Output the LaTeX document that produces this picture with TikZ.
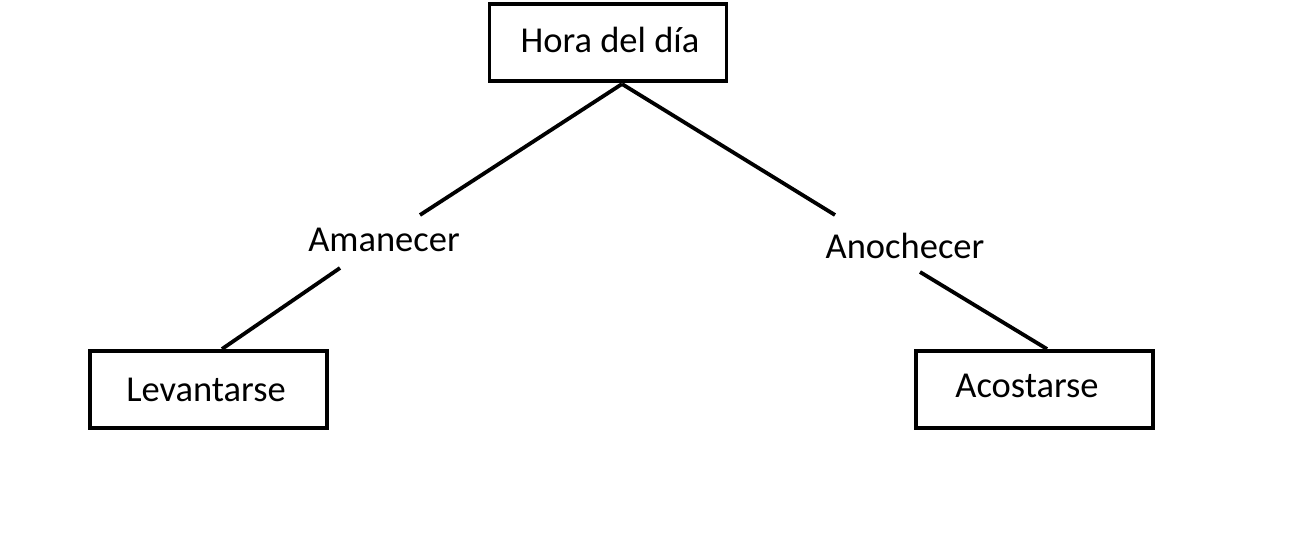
\documentclass[tikz,border=0pt]{standalone}
\usepackage{fontspec}
\setmainfont{Carlito}
\begin{document}
\begin{tikzpicture}[x=1pt,y=-1pt,
  txt/.style={font=\fontsize{36.5}{44}\selectfont,inner sep=0pt},
  box/.style={draw=black,line width=3.8pt,minimum width=237pt,minimum height=77pt,inner sep=0pt},
  conn/.style={draw=black,line width=3.8pt}]
\useasboundingbox (0,0) rectangle (1292,559);
\node[box] (hora) at (608,42.5) {};
\node[txt] (horat) at (610,40) {Hora del día};
\node[box] (lev) at (208.5,389.5) {};
\node[txt] (levt) at (206,390) {Levantarse};
\node[box] (aco) at (1034.5,389.5) {};
\node[txt] (acot) at (1027,386) {Acostarse};
\node[txt] (am) at (384,240) {Amanecer};
\node[txt] (an) at (905,246) {Anochecer};
\coordinate (apex) at (622,84);
\coordinate (am1) at (420,215);
\coordinate (am2) at (340,268);
\coordinate (an1) at (835,215);
\coordinate (an2) at (920,272);
\coordinate (levtop) at (222,349);
\coordinate (acotop) at (1047,349);
\draw[conn] (apex) -- (am1);
\draw[conn] (am2) -- (levtop);
\draw[conn] (apex) -- (an1);
\draw[conn] (an2) -- (acotop);
\end{tikzpicture}
\end{document}
